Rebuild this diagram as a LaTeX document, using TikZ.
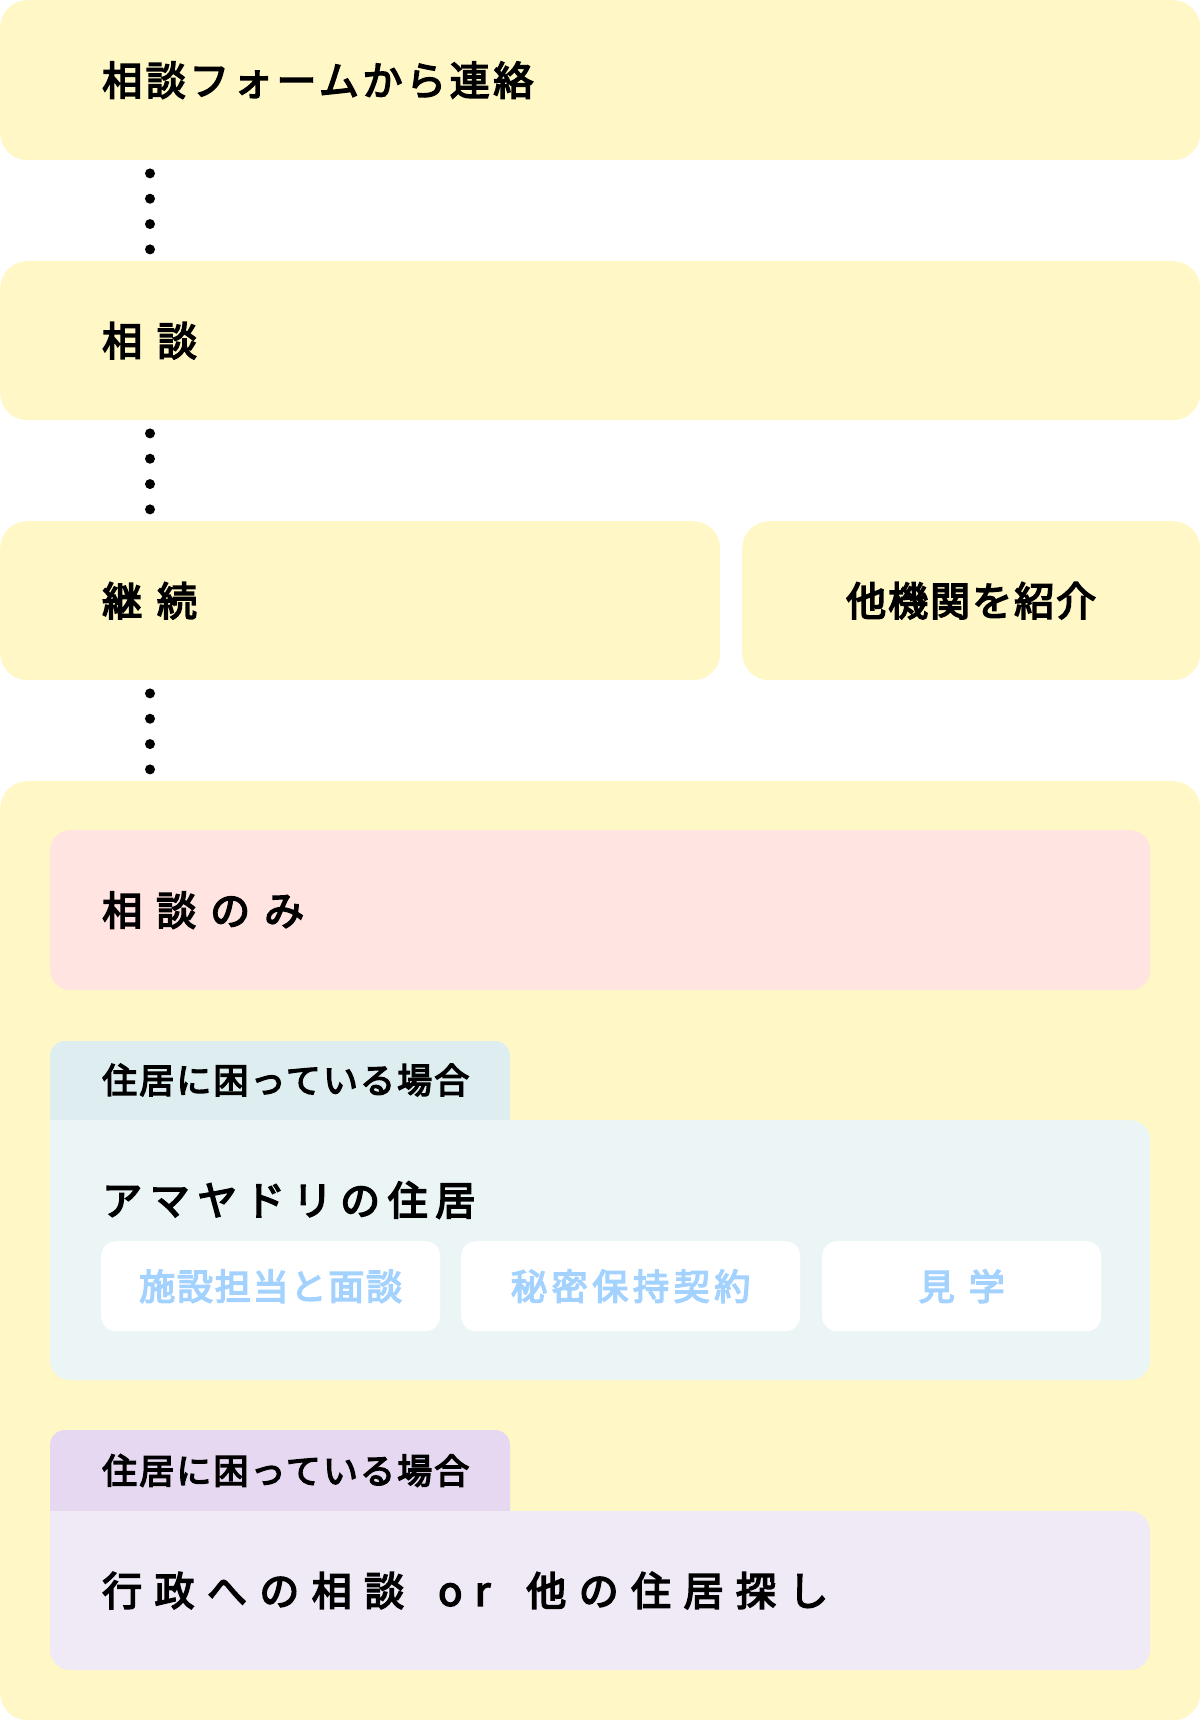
\documentclass[tikz,border=0pt]{standalone}
\usepackage{fontspec}
\newfontfamily\jpfont{Noto Sans CJK JP}[FakeBold=4]
\usetikzlibrary{positioning}
\definecolor{boxyellow}{HTML}{FFF8C6}
\definecolor{boxpink}{HTML}{FFE4E1}
\definecolor{tabblue}{HTML}{DDEDF0}
\definecolor{bodyblue}{HTML}{ECF5F6}
\definecolor{tabpurple}{HTML}{E5D8F0}
\definecolor{bodypurple}{HTML}{F0EAF6}
\definecolor{textblue}{HTML}{A3D2FF}
\begin{document}
\begin{tikzpicture}[x=1pt,y=-1pt,
  bigbox/.style={fill=boxyellow,rounded corners=27pt,anchor=north west,inner sep=0pt},
  innerbox/.style={rounded corners=20pt,anchor=north west,inner sep=0pt},
  chip/.style={fill=white,rounded corners=15pt,anchor=north west,inner sep=0pt,text=textblue},
  jp/.style n args={2}{font=\jpfont\fontsize{#1pt}{#1pt}\selectfont\addfontfeature{LetterSpace=#2}},
  lbl/.style={anchor=west,inner sep=0pt,jp={40}{#1}},
  lbl/.default=0,
  dots/.style={line width=10pt,line cap=round,dash pattern=on 0pt off 25.33pt,dash phase=12.33pt}]
\useasboundingbox (0,0) rectangle (1200,1720);
%steps:
\node (contact) at (0,0) [bigbox,minimum width=1200pt,minimum height=160pt] {};
\node (consult) at (0,261) [bigbox,minimum width=1200pt,minimum height=159pt] {};
\node (cont) at (0,521) [bigbox,minimum width=720pt,minimum height=159pt] {};
\node (refer) at (742,521) [bigbox,minimum width=458pt,minimum height=159pt,jp={40}{5}] {他機関を紹介};
\node (result) at (0,781) [bigbox,minimum width=1200pt,minimum height=939pt] {};

\node (contacttext) [lbl=9,right=102pt of contact.west] {相談フォームから連絡};
\node (consulttext) [lbl=37,right=102pt of consult.west] {相談};
\node (conttext) [lbl=37,right=102pt of cont.west] {継続};

%results:
\node (only) at (50,830) [innerbox,fill=boxpink,minimum width=1100pt,minimum height=160pt] {};
\node (onlytext) [lbl=35,right=52pt of only.west] {相談のみ};

\fill[tabblue,rounded corners=15pt] (50,1120) -- (50,1041) -- (510,1041) -- (510,1120);
\fill[bodyblue,rounded corners=20pt] (50,1120) -- (50,1380) -- (1150,1380) -- (1150,1120) -- (50,1120);
\node (tabone) at (102,1080) [anchor=west,inner sep=0pt,jp={35}{6}] {住居に困っている場合};
\node (house) at (102,1200) [lbl=19] {アマヤドリの住居};
\node (meet) at (101,1241) [chip,minimum width=339pt,minimum height=90pt,jp={36}{5}] {施設担当と面談};
\node (secret) at (461,1241) [chip,minimum width=339pt,minimum height=90pt,jp={36}{13}] {秘密保持契約};
\node (visit) at (822,1241) [chip,minimum width=279pt,minimum height=90pt,jp={36}{39}] {見学};

\fill[tabpurple,rounded corners=15pt] (50,1511) -- (50,1430) -- (510,1430) -- (510,1511);
\fill[bodypurple,rounded corners=20pt] (50,1511) -- (50,1670) -- (1150,1670) -- (1150,1511) -- (50,1511);
\node (tabtwo) at (102,1470.5) [anchor=west,inner sep=0pt,jp={35}{6}] {住居に困っている場合};
\node (other) at (102,1590.5) [lbl=31] {行政への相談\hspace{34pt}or\hspace{36pt}他の住居探し};

%connectors:
\coordinate (dotx) at (150,0);
\draw[dots] (contact.south -| dotx) -- (consult.north -| dotx);
\draw[dots] (consult.south -| dotx) -- (cont.north -| dotx);
\draw[dots] (cont.south -| dotx) -- (result.north -| dotx);
\end{tikzpicture}
\end{document}
